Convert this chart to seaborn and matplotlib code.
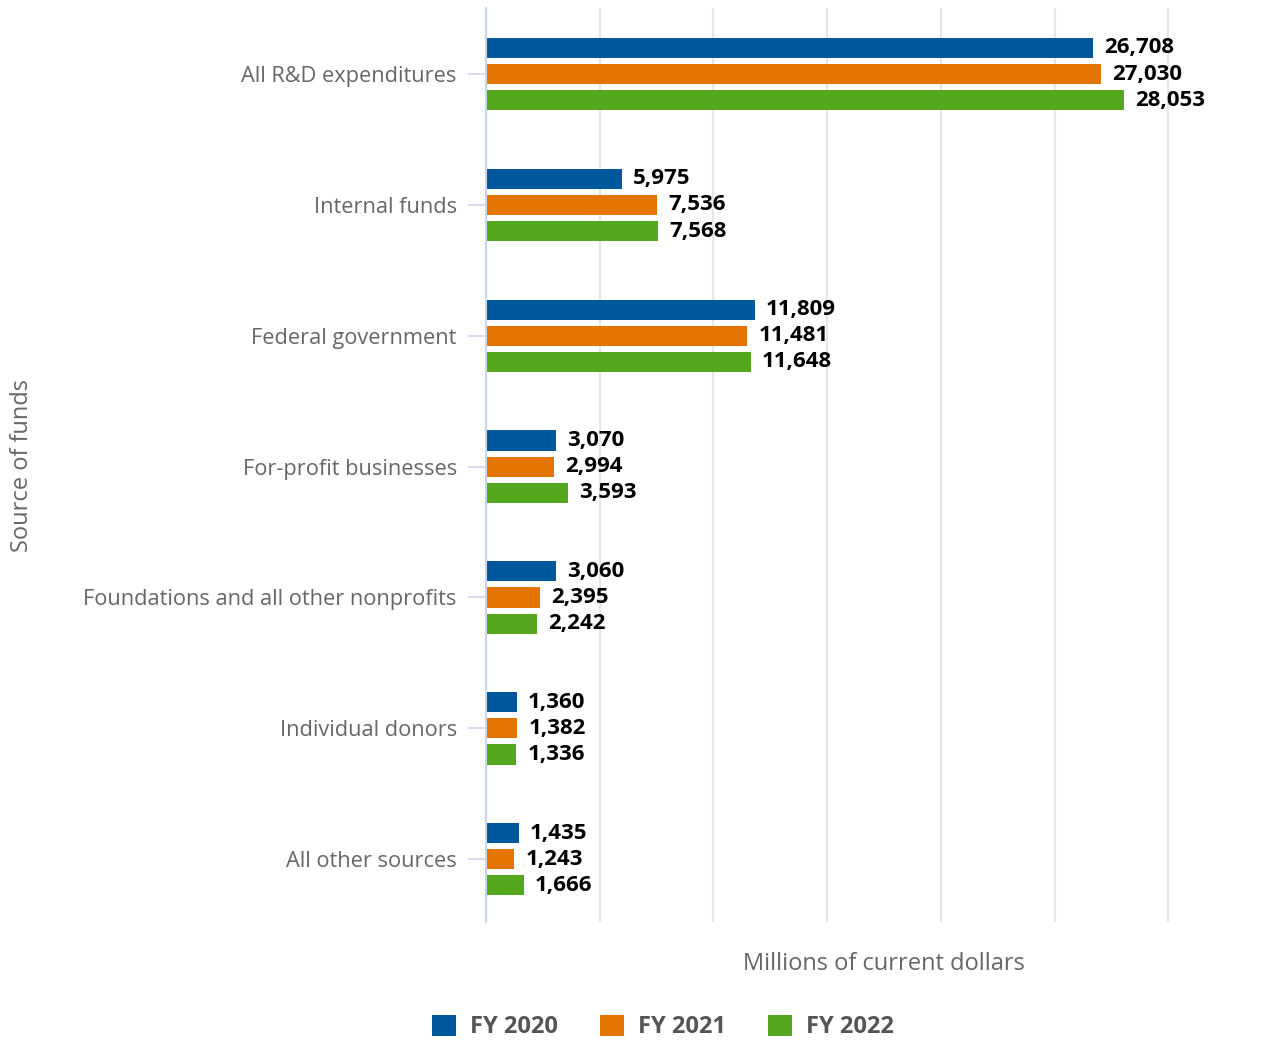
"""
Sources of R&D funds, FY 2020-2022 (grouped horizontal bars).
"""

import pandas as pd
import matplotlib.pyplot as plt
import seaborn as sns

# Chart data
categories = [
    'All R&D expenditures',
    'Internal funds',
    'Federal government',
    'For-profit businesses',
    'Foundations and all other nonprofits',
    'Individual donors',
    'All other sources',
]
fy2020 = [26708, 5975, 11809, 3070, 3060, 1360, 1435]
fy2021 = [27030, 7536, 11481, 2994, 2395, 1382, 1243]
fy2022 = [28053, 7568, 11648, 3593, 2242, 1336, 1666]
series_names = ['FY 2020', 'FY 2021', 'FY 2022']
x_ticks = [0, 5000, 10000, 15000, 20000, 25000, 30000]

colors = ['#00589c', '#e37400', '#55a71d']
text_gray = '#666666'

sns.set_theme(style='white')
plt.rcParams['font.family'] = ['Open Sans', 'DejaVu Sans']

# Long form table for seaborn
df = pd.DataFrame({
    'Source': categories * 3,
    'Value': fy2020 + fy2021 + fy2022,
    'Year': [s for s in series_names for _ in categories],
})

fig = plt.figure(figsize=(12.85, 10.4), dpi=100)
ax = fig.add_axes([486 / 1285, 118 / 1040, 796 / 1285, 914 / 1040])

sns.barplot(data=df, y='Source', x='Value', hue='Year', order=categories,
            hue_order=series_names, palette=colors, width=0.6, gap=0.23,
            orient='h', saturation=1, linewidth=0, edgecolor='none',
            ax=ax, legend=True)

for container in ax.containers:
    ax.bar_label(container, labels=[f'{v:,.0f}' for v in container.datavalues],
                 padding=8, fontsize=16, fontweight='bold', color='black')

ax.set_xlim(0, 35000)
ax.set_ylim(len(categories) - 0.52, -0.505)
ax.set_xticks(x_ticks)
ax.set_xticklabels([])
ax.tick_params(axis='x', length=0)
ax.grid(axis='x', color='#e6e6e6', linewidth=1.5)
ax.set_axisbelow(True)

ax.tick_params(axis='y', length=13, width=1.2, color='#ccd6eb', pad=8,
               labelsize=15.7, labelcolor=text_gray, left=True)
for side in ['top', 'right', 'bottom']:
    ax.spines[side].set_visible(False)
ax.spines['left'].set_color('#ccd6eb')
ax.spines['left'].set_linewidth(1.5)

ax.set_xlabel('Millions of current dollars', fontsize=17, color=text_gray,
              labelpad=18)
ax.set_ylabel('')
fig.text(22 / 1285, (1040 - 466) / 1040, 'Source of funds', rotation=90,
         fontsize=17, color=text_gray, ha='center', va='center')

handles, labels = ax.get_legend_handles_labels()
ax.get_legend().remove()
fig.legend(handles, labels, loc='center', bbox_to_anchor=(663 / 1285, 13 / 1040),
           ncol=3, frameon=False, handlelength=1.0, handleheight=1.0,
           handletextpad=0.6, columnspacing=1.8,
           prop={'size': 17, 'weight': 'bold'}, labelcolor='#555555')

fig.savefig('out.png', dpi=100)
